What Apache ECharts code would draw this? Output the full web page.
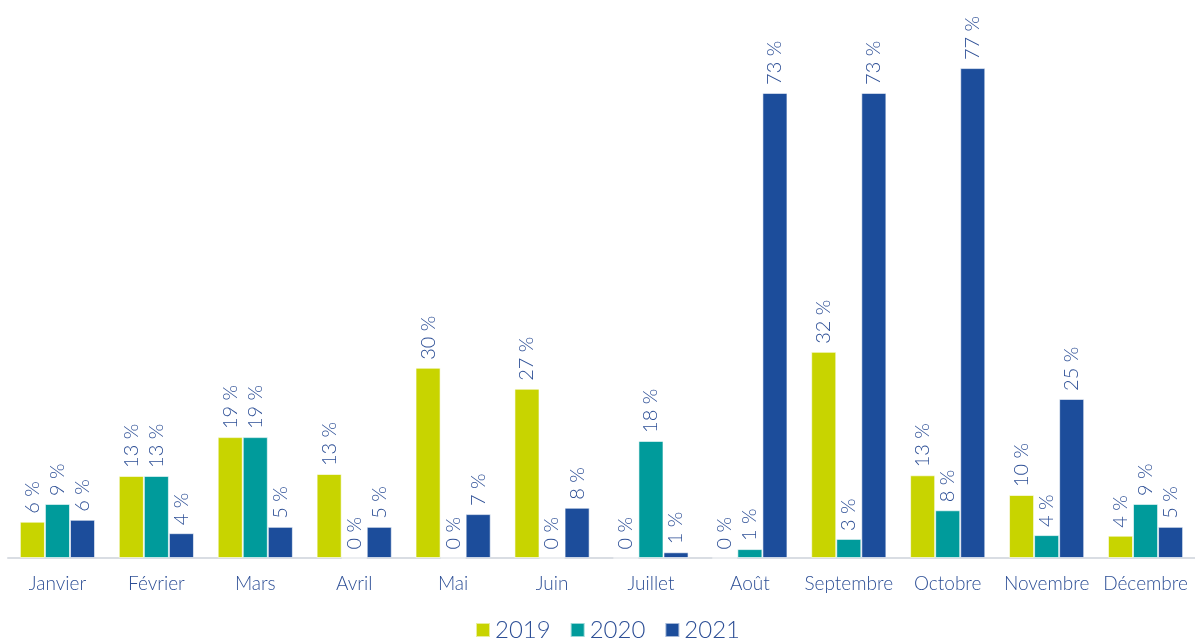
<!DOCTYPE html>
<html>
<head>
<meta charset="utf-8">
<script src="https://cdn.jsdelivr.net/npm/echarts@6/dist/echarts.min.js"></script>
<style>
  html, body { margin: 0; padding: 0; background: #fff; }
  #chart { width: 1195px; height: 644px; }
</style>
</head>
<body>
<div id="chart"></div>
<script>
var months = ['Janvier', 'Février', 'Mars', 'Avril', 'Mai', 'Juin', 'Juillet', 'Août', 'Septembre', 'Octobre', 'Novembre', 'Décembre'];
var data2019 = [5.7, 12.9, 19.0, 13.2, 29.9, 26.6, 0, 0, 32.4, 13.0, 9.9, 3.5];
var data2020 = [8.5, 12.9, 19.0, 0, 0, 0, 18.4, 1.4, 3.0, 7.5, 3.6, 8.5];
var data2021 = [6.0, 3.9, 4.9, 4.9, 6.9, 7.9, 0.9, 73.1, 73.1, 77.0, 25.0, 4.9];

var chart = echarts.init(document.getElementById('chart'));

var textColor = '#2d4f96';
var fontFamily = 'Lato, "Noto Sans", sans-serif';

function makeSeries(name, data, color) {
  return {
    name: name,
    type: 'bar',
    data: data,
    barGap: 0,
    barCategoryGap: '24%',
    itemStyle: {
      color: color,
      borderColor: 'rgba(255,255,255,0.6)',
      borderWidth: 1
    },
    label: {
      show: true,
      position: 'top',
      rotate: 90,
      align: 'left',
      verticalAlign: 'middle',
      distance: 8,
      color: textColor,
      fontSize: 20,
      fontWeight: 300,
      fontFamily: fontFamily,
      formatter: function (p) {
        return Math.round(p.value) + ' %';
      }
    }
  };
}

var option = {
  animation: false,
  textStyle: { fontFamily: fontFamily },
  grid: {
    left: 8,
    right: 0,
    top: 49,
    bottom: 86,
    containLabel: false
  },
  legend: {
    bottom: -3,
    left: 470,
    icon: 'rect',
    itemWidth: 14,
    itemHeight: 14,
    itemGap: 19,
    textStyle: { color: textColor, fontSize: 24, fontWeight: 300, fontFamily: fontFamily }
  },
  xAxis: {
    type: 'category',
    data: months,
    axisTick: { show: false },
    axisLine: { lineStyle: { color: '#d9dde3', width: 2 } },
    axisLabel: {
      color: textColor,
      fontSize: 19,
      fontWeight: 300,
      margin: 16,
      interval: 0,
      fontFamily: fontFamily
    }
  },
  yAxis: {
    type: 'value',
    min: 0,
    max: 80,
    show: false,
    splitLine: { show: false }
  },
  series: [
    makeSeries('2019', data2019, '#c8d400'),
    makeSeries('2020', data2020, '#009b9b'),
    makeSeries('2021', data2021, '#1c4d9b')
  ]
};

chart.setOption(option);
</script>
</body>
</html>
